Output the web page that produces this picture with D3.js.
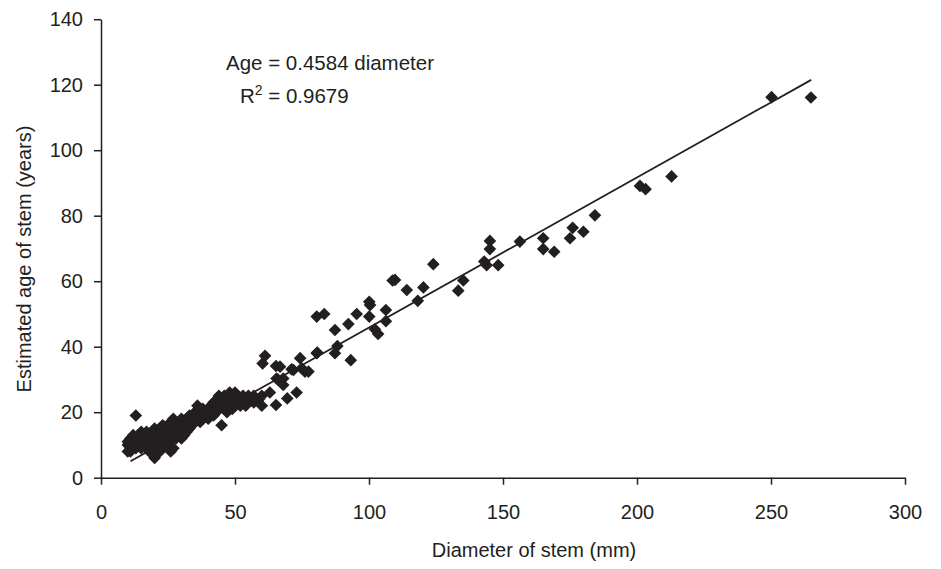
<!DOCTYPE html>
<html>
<head>
<meta charset="utf-8">
<script src="https://cdn.jsdelivr.net/npm/d3@7"></script>
<style>
  body { margin: 0; background: #fff; }
  svg text { font-family: "Liberation Sans", Arial, sans-serif; fill: #231f20; }
  .axis path, .axis line { stroke: #231f20; stroke-width: 1.5; }
</style>
</head>
<body>
<svg id="chart"></svg>
<script>
// stem diameter (mm), estimated age (years)
const stemDiameter = [
  10,10,10, 11,11,11, 12,12,12, 13,13,13, 14,14,14, 15,15,15,15, 16,16,16,
  17,17,17,17, 18,18,18,18, 19,19,19,19, 20,20,20,20,20, 21,21,21,21,
  22,22,22,22, 23,23,23,23, 24,24,24,24, 25,25,25,25, 26,26,26,26,
  27,27,27,27, 28,28,28, 29,29,29, 30,30,30,30, 31,31,31, 32,32,32,
  33,33,33, 34,34,34, 35,35,35, 36,36,36, 37,37,37, 38,38,38, 39,39,
  40,40,40, 41,41, 42,42,42, 43,43, 44,44,44, 45,45,45, 46,46,46,
  47,47,47, 48,48,48, 49,49,49, 50,50,50, 51,51, 52,52, 53,53, 54,54,
  55,55, 56, 57,57, 58, 59, 60,60,
  60.3,61.2,63,65.3,65.3,65.5,66,66.8,68,68,69.5,71.1,71.8,73,74.3,74.9,
  76.1,77.4,80.5,80.5,80.7,83.3,87.3,87.3,88.2,92.3,93.2,95.4,100.1,100.4,
  100.1,102.2,103.4,106.3,106.3,108.8,109.7,114.1,118.2,120.3,124,133.3,
  135.2,143,143.9,145.1,145.1,148.2,156.3,165,165,169.1,175,176,180,184.3,
  201.1,203.2,212.9,250.2,264.9
];
const stemAge = [
  8,10,11, 9,12,8, 10,13,11, 19,9,12, 11,13,10, 12,9,14,11, 13,10,12,
  11,14,9,12, 10,13,12,8, 12,14,9,11, 6,13,15,10,8, 12,9,14,11,
  13,10,15,8, 14,12,11,16, 12,15,10,13, 14,11,16,13, 13,8,15,17,
  15,12,9,18, 14,16,12, 15,17,13, 16,14,18,12, 17,15,13, 16,18,14,
  17,15,19, 18,16,17, 19,17,20, 18,20,22, 19,17,21, 20,18,21, 20,19,
  21,19,18, 20,22, 21,23,19, 22,20, 23,21,25, 16,22,24, 23,21,25,
  22,24,20, 24,22,26, 23,25,21, 24,22,26, 23,25, 24,22, 25,23, 24,22,
  25,23, 24, 25,23, 24, 24, 25,22,
  34.9,37.2,26,34.1,22.2,30.3,30,33.9,28.3,30.3,24.2,33.1,32.9,26,36.5,33.4,
  32.4,32.4,38,49.2,38.2,50,38,45.1,40.2,46.9,35.9,50,53.7,52.7,
  49.2,45.3,43.9,51.2,47.8,60.2,60.4,57.3,54,58.1,65.2,57.1,
  60.2,66,64.9,72.3,69.8,64.9,72.1,73.1,69.8,69,73.1,76.3,75.1,80.1,
  89.1,88.1,92,116.2,116.1
];
const xTicks = [0, 50, 100, 150, 200, 250, 300];
const yTicks = [0, 20, 40, 60, 80, 100, 120, 140];
const fitSlope = 0.4584;
const fitR2 = 0.9679;
const fitRange = [11, 265];

const data = stemDiameter.map((d, i) => ({diameter: d, age: stemAge[i]}));

const width = 941, height = 569;
const margin = {top: 19.2, right: 36, bottom: 91.3, left: 101};
const innerW = width - margin.left - margin.right;
const innerH = height - margin.top - margin.bottom;

const svg = d3.select('#chart')
  .attr('width', width)
  .attr('height', height);

const chart = svg.append('g')
  .attr('transform', `translate(${margin.left},${margin.top})`);

const xScale = d3.scaleLinear().domain([0, 300]).range([0, innerW]);
const yScale = d3.scaleLinear().domain([0, 140]).range([innerH, 0]);

const xAxis = d3.axisBottom(xScale)
  .tickValues(xTicks)
  .tickSize(7)
  .tickPadding(20)
  .tickSizeOuter(0);

const yAxis = d3.axisLeft(yScale)
  .tickValues(yTicks)
  .tickSize(7)
  .tickPadding(11)
  .tickSizeOuter(0);

chart.append('g')
  .attr('class', 'axis x')
  .attr('transform', `translate(0,${innerH})`)
  .call(xAxis)
  .call(g => g.selectAll('text').style('font-size', '20px'));

chart.append('g')
  .attr('class', 'axis y')
  .call(yAxis)
  .call(g => g.selectAll('text').style('font-size', '20px'));

// regression line through origin
chart.append('line')
  .attr('x1', xScale(fitRange[0]))
  .attr('y1', yScale(fitSlope * fitRange[0]))
  .attr('x2', xScale(fitRange[1]))
  .attr('y2', yScale(fitSlope * fitRange[1]))
  .attr('stroke', '#231f20')
  .attr('stroke-width', 1.8);

const diamond = d3.symbol().type(d3.symbolSquare).size(80);

chart.selectAll('.point')
  .data(data)
  .enter()
  .append('path')
  .attr('class', 'point')
  .attr('d', diamond)
  .attr('transform', d => `translate(${xScale(d.diameter)},${yScale(d.age)}) rotate(45)`)
  .attr('fill', '#231f20');

// equation labels
svg.append('text')
  .attr('x', 226)
  .attr('y', 70)
  .style('font-size', '20.5px')
  .text(`Age = ${fitSlope} diameter`);

const r2 = svg.append('text')
  .attr('x', 240)
  .attr('y', 103)
  .style('font-size', '20.5px');
r2.append('tspan').text('R');
r2.append('tspan').attr('dy', -8).style('font-size', '14px').text('2');
r2.append('tspan').attr('dy', 8).text(` = ${fitR2}`);

// axis titles
svg.append('text')
  .attr('x', 534)
  .attr('y', 557)
  .style('font-size', '20px')
  .style('text-anchor', 'middle')
  .text('Diameter of stem (mm)');

svg.append('text')
  .attr('transform', 'translate(31,259) rotate(-90)')
  .style('font-size', '20px')
  .style('text-anchor', 'middle')
  .text('Estimated age of stem (years)');
</script>
</body>
</html>
